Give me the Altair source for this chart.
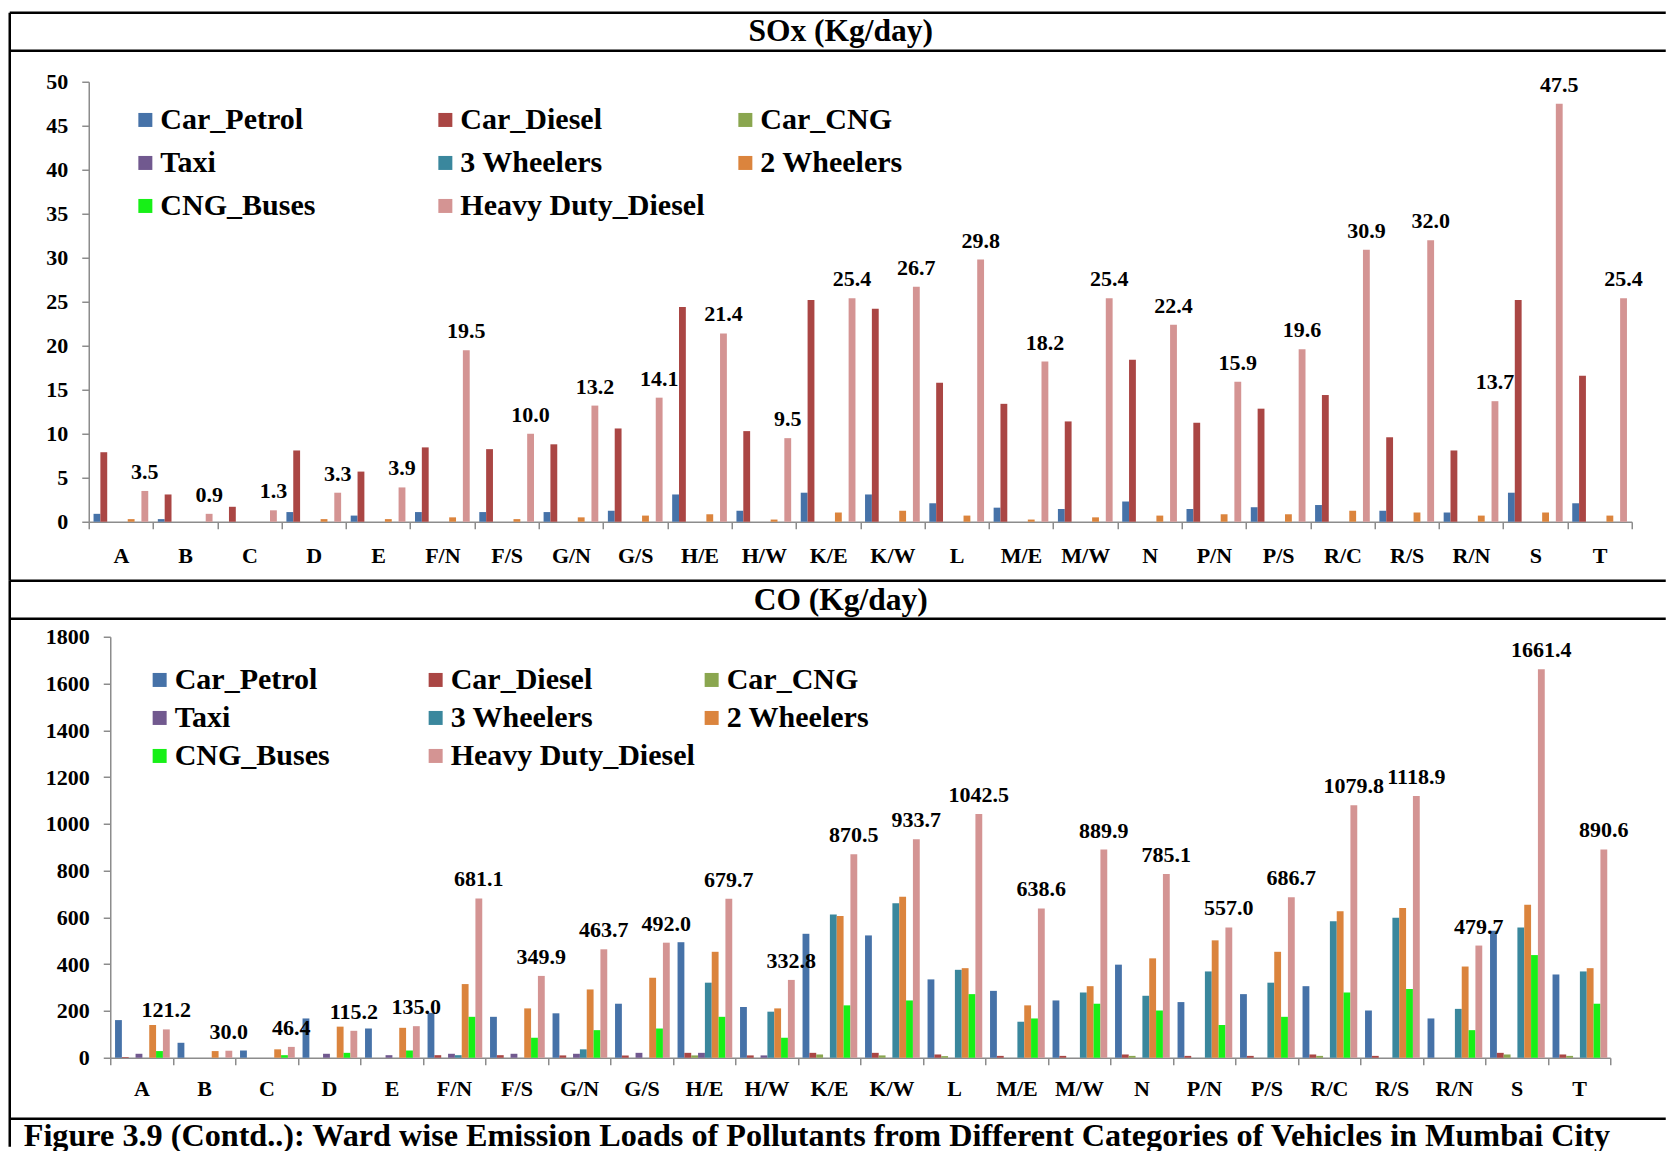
import altair as alt
import pandas as pd

# ---------------- data ----------------
wards = ["A", "B", "C", "D", "E", "F/N", "F/S", "G/N", "G/S", "H/E", "H/W", "K/E",
         "K/W", "L", "M/E", "M/W", "N", "P/N", "P/S", "R/C", "R/S", "R/N", "S", "T"]
series = ["Car_Petrol", "Car_Diesel", "Car_CNG", "Taxi", "3 Wheelers",
          "2 Wheelers", "CNG_Buses", "Heavy Duty_Diesel"]
colors = ["#4672A8", "#AA4644", "#8AA64F", "#71598F", "#3A879D",
          "#DB843D", "#17F017", "#D49493"]

panel_titles = ["SOx (Kg/day)", "CO (Kg/day)"]
caption = ("Figure 3.9 (Contd..): Ward wise Emission Loads of Pollutants from "
           "Different Categories of Vehicles in Mumbai City")

# SOx (Kg/day)
sox_car_petrol = [0.9, 0.3, 0.0, 1.1, 0.7, 1.1, 1.1, 1.1, 1.25, 3.1, 1.25, 3.3,
                  3.1, 2.1, 1.6, 1.45, 2.3, 1.45, 1.65, 1.9, 1.25, 1.05, 3.3, 2.1]
sox_car_diesel = [7.9, 3.1, 1.7, 8.1, 5.7, 8.45, 8.25, 8.8, 10.6, 24.4, 10.3, 25.2,
                  24.2, 15.8, 13.4, 11.4, 18.4, 11.25, 12.85, 14.4, 9.6, 8.1, 25.2, 16.6]
sox_car_cng = [0.0] * 24
sox_taxi = [0.0] * 24
sox_three_wheelers = [0.0] * 24
sox_two_wheelers = [0.3, 0.0, 0.0, 0.3, 0.3, 0.5, 0.3, 0.5, 0.7, 0.85, 0.25, 1.05,
                    1.25, 0.7, 0.25, 0.5, 0.7, 0.85, 0.85, 1.25, 1.05, 0.7, 1.05, 0.7]
sox_cng_buses = [0.0] * 24
sox_hdd = [3.5, 0.9, 1.3, 3.3, 3.9, 19.5, 10.0, 13.2, 14.1, 21.4, 9.5, 25.4,
           26.7, 29.8, 18.2, 25.4, 22.4, 15.9, 19.6, 30.9, 32.0, 13.7, 47.5, 25.4]

# CO (Kg/day)
co_car_petrol = [161, 64, 31, 168, 125, 192, 175, 190, 231, 494, 217, 530,
                 523, 335, 286, 245, 398, 238, 272, 306, 202, 168, 543, 356]
co_car_diesel = [3, 0, 0, 0, 0, 11, 11, 10, 10, 21, 10, 21,
                 21, 14, 8, 8, 14, 8, 8, 14, 8, 0, 21, 14]
co_car_cng = [0, 0, 0, 0, 0, 0, 0, 0, 0, 10, 0, 14,
              10, 7, 0, 0, 8, 0, 0, 8, 0, 0, 14, 8]
co_taxi = [17, 0, 0, 17, 11, 17, 17, 17, 21, 21, 10, 0,
           0, 0, 0, 0, 0, 0, 0, 0, 0, 0, 0, 0]
co_three_wheelers = [0, 0, 0, 0, 0, 11, 0, 36, 0, 321, 197, 613,
                     661, 376, 154, 279, 265, 369, 321, 584, 599, 209, 557, 369]
co_two_wheelers = [140, 28.5, 36, 133, 128, 315, 211, 292, 342, 453, 211, 606,
                   688, 383, 224, 306, 425, 502, 453, 626, 640, 390, 654, 383]
co_cng_buses = [28.5, 0, 11, 21, 31, 175, 85.5, 118, 125, 175, 85.5, 224,
                245, 272, 168, 231, 202, 140, 175, 279, 294, 118, 439, 231]
co_hdd = [121.2, 30.0, 46.4, 115.2, 135.0, 681.1, 349.9, 463.7, 492.0, 679.7, 332.8, 870.5,
          933.7, 1042.5, 638.6, 889.9, 785.1, 557.0, 686.7, 1079.8, 1118.9, 479.7, 1661.4, 890.6]


def long_table(cols):
    rows = []
    for s, vals in zip(series, cols):
        for w, v in zip(wards, vals):
            rows.append({"ward": w, "series": s, "value": v})
    return pd.DataFrame(rows)


sox_df = long_table([sox_car_petrol, sox_car_diesel, sox_car_cng, sox_taxi,
                     sox_three_wheelers, sox_two_wheelers, sox_cng_buses, sox_hdd])
co_df = long_table([co_car_petrol, co_car_diesel, co_car_cng, co_taxi,
                    co_three_wheelers, co_two_wheelers, co_cng_buses, co_hdd])

FONT = "Liberation Serif"
GREY = "#8C8C8C"
LINE = 2.5
one = pd.DataFrame({"d": [0]})


def hrule(x1, x2, y):
    return alt.Chart(one).mark_rule(color="black", strokeWidth=LINE).encode(
        x=alt.value(x1), x2=alt.value(x2), y=alt.value(y))


def vrule(x, y1, y2):
    return alt.Chart(one).mark_rule(color="black", strokeWidth=LINE).encode(
        x=alt.value(x), y=alt.value(y1), y2=alt.value(y2))


def panel(df, width, height, ymax, ystep, xlab_pad, leg_x, leg_y, row_pad, col_pad,
          title, title_x, title_y, decorations):
    x = alt.X("ward:N", sort=wards,
              scale=alt.Scale(paddingInner=0, paddingOuter=0),
              axis=alt.Axis(title=None, labelAngle=0, tickBand="extent",
                            labelFont=FONT, labelFontWeight="bold", labelFontSize=22,
                            labelColor="black", labelPadding=xlab_pad, labelBaseline="middle",
                            tickSize=7, tickColor=GREY, tickWidth=1.5,
                            domainColor=GREY, domainWidth=1.5, grid=False))
    xoff = alt.XOffset("series:N", sort=series,
                       scale=alt.Scale(paddingInner=0, paddingOuter=0.7))
    y = alt.Y("value:Q", scale=alt.Scale(domain=[0, ymax], nice=False),
              axis=alt.Axis(title=None, values=list(range(0, ymax + 1, ystep)),
                            format="d",
                            labelFont=FONT, labelFontWeight="bold", labelFontSize=22,
                            labelColor="black", labelPadding=14,
                            tickSize=7, tickColor=GREY, tickWidth=1.5,
                            domainColor=GREY, domainWidth=1.5, grid=False))
    color = alt.Color("series:N", sort=series,
                      scale=alt.Scale(domain=series, range=colors),
                      legend=alt.Legend(orient="none", legendX=leg_x, legendY=leg_y,
                                        direction="horizontal",
                                        columns=3, gridAlign="all",
                                        columnPadding=col_pad, rowPadding=row_pad,
                                        symbolType="square", symbolSize=196,
                                        symbolStrokeWidth=0, symbolOpacity=1,
                                        labelFont=FONT, labelFontWeight="bold",
                                        labelFontSize=30, labelColor="black",
                                        labelLimit=500, labelOffset=0,
                                        title=None, padding=0))
    bars = alt.Chart(df).mark_bar().encode(x=x, xOffset=xoff, y=y, color=color)
    labels = alt.Chart(df).transform_filter(
        alt.datum.series == "Heavy Duty_Diesel"
    ).mark_text(font=FONT, fontWeight="bold", fontSize=22, color="black",
                baseline="alphabetic", dy=-12).encode(
        x=alt.X("ward:N", sort=wards),
        xOffset=alt.XOffset("series:N", sort=series),
        y=alt.Y("value:Q"),
        text=alt.Text("value:Q", format=".1f"))
    title_mark = alt.Chart(pd.DataFrame({"t": [title]})).mark_text(
        font=FONT, fontWeight="bold", fontSize=31.5, color="black",
        align="center", baseline="middle").encode(
        text="t:N", x=alt.value(title_x), y=alt.value(title_y))
    return alt.layer(bars, labels, title_mark, *decorations).properties(
        width=width, height=height)


# SOx panel: plot origin at (88, 81) in page pixels, 1543 x 440
sx, sy = 88, 81
sox_deco = [
    hrule(9 - sx, 1665 - sx, 12 - sy),
    hrule(9 - sx, 1665 - sx, 50 - sy),
    hrule(9 - sx, 1665 - sx, 580 - sy),
    vrule(9 - sx, 12 - sy, 580 - sy),
]
sox = panel(sox_df, 1543, 440, 50, 5, 27, 41.6, 23.2, 13.0, 25,
            panel_titles[0], 840 - sx, 31.5 - sy, sox_deco)

# CO panel: plot origin at (109.5, 636), 1500 x 421
cx, cy = 109.5, 636
cap_mark = alt.Chart(pd.DataFrame({"t": [caption]})).mark_text(
    font=FONT, fontWeight="bold", fontSize=32.2, color="black",
    align="left", baseline="alphabetic").encode(
    text="t:N", x=alt.value(23 - cx), y=alt.value(1145 - cy))
co_deco = [
    hrule(9 - cx, 1665 - cx, 618 - cy),
    hrule(9 - cx, 1665 - cx, 1118 - cy),
    vrule(9 - cx, 580 - cy, 1146 - cy),
    cap_mark,
]
co = panel(co_df, 1500, 421, 1800, 200, 24, 34.4, 28.2, 8.0, 1,
           panel_titles[1], 840 - cx, 600 - cy, co_deco)

chart = alt.vconcat(sox, co, spacing=115, bounds="flush", center=True).resolve_legend(
    color="independent"
).properties(
    padding={"left": 7.75, "top": 10.75, "right": 0, "bottom": 0},
    background="white"
).configure_view(stroke=None)

chart.save("out.html", embed_options={"renderer": "svg", "actions": False})
